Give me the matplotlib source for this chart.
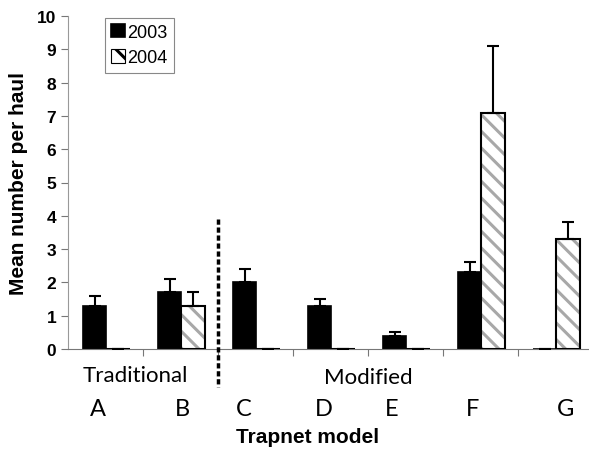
import matplotlib
matplotlib.use("Agg")
import matplotlib.pyplot as plt
import numpy as np

# datos
modelos = ["A", "B", "C", "D", "E", "F", "G"]
media_2003 = [1.3, 1.7, 2.0, 1.3, 0.4, 2.3, 0.0]
error_2003 = [0.3, 0.4, 0.4, 0.2, 0.1, 0.3, 0.0]
media_2004 = [0.0, 1.3, 0.0, 0.0, 0.0, 7.1, 3.3]
error_2004 = [0.0, 0.4, 0.0, 0.0, 0.0, 2.0, 0.5]
grupos = ["Traditional", "Modified"]
yticks = list(range(0, 11))

plt.rcParams['font.family'] = ['Liberation Sans', 'DejaVu Sans']
plt.rcParams['hatch.linewidth'] = 2.2

fig = plt.figure(figsize=(5.89, 4.52), dpi=100)
ax = fig.add_axes([68 / 589, 102 / 452, 521 / 589, 333 / 452])

x = np.arange(len(modelos))
ancho = 0.31
x03 = x + 0.2 + ancho / 2
x04 = x + 0.2 + ancho * 1.5

# barras 2003
ax.bar(x03, media_2003, ancho, color='black', edgecolor='black', lw=1.2, label='2003', zorder=2)
# barras 2004 (rayado gris + borde negro)
ax.bar(x04, media_2004, ancho, color='white', edgecolor='#a8a8a8', hatch='\\\\', lw=0, zorder=2)
ax.bar(x04, media_2004, ancho, fill=False, edgecolor='black', lw=1.5, zorder=3)
# entrada de leyenda
ax.bar([0], [0], 0, color='white', edgecolor='black', hatch='\\', lw=0.8, label='2004')

# barras de error (solo superior)
ax.errorbar(x03, media_2003, yerr=[np.zeros(7), error_2003], fmt='none', ecolor='black',
            elinewidth=1.5, capsize=4, capthick=1.5, zorder=4)
ax.errorbar(x04, media_2004, yerr=[np.zeros(7), error_2004], fmt='none', ecolor='black',
            elinewidth=1.5, capsize=4, capthick=1.5, zorder=4)

ax.set_xlim(0, 521 / 75)
ax.set_ylim(0, 10)
ax.set_yticks(yticks)
ax.set_yticklabels([str(v) for v in yticks], fontsize=12.5, fontweight='bold')
ax.set_xticks(x[1:])
ax.set_xticklabels([])
ax.tick_params(axis='x', length=5, color='#777777')
ax.tick_params(axis='y', length=5, color='#777777')
for s in ['top', 'right']:
    ax.spines[s].set_visible(False)
ax.spines['left'].set_color('#999999')
ax.spines['bottom'].set_color('#777777')

# linea divisoria
ax.plot([2, 2], [3.9, -1.15], ls=(0, (1.5, 0.8)), color='black', lw=2.5, clip_on=False, zorder=5)

# etiquetas de grupo y modelo
ax.text(0.9, -0.78, grupos[0], ha='center', va='center', fontsize=16, family='Lato')
ax.text(4.0, -0.85, grupos[1], ha='center', va='center', fontsize=16, family='Lato')
pos_letras = [0.4, 1.52, 2.35, 3.41, 4.32, 5.39, 6.63]
for p, m in zip(pos_letras, modelos):
    ax.text(p, -1.8, m, ha='center', va='center', fontsize=17, family='Lato')

ax.set_ylabel('Mean number per haul', fontsize=15, fontweight='bold', labelpad=6)
ax.text(3.2, -2.64, 'Trapnet model', ha='center', va='center', fontsize=15, fontweight='bold')

leg = ax.legend(loc='upper left', bbox_to_anchor=(0.067, 1.0), fontsize=13, handlelength=0.75,
                handleheight=0.75, handletextpad=0.15, borderpad=0.35, labelspacing=0.45,
                borderaxespad=0.1, fancybox=False, edgecolor='#888888', framealpha=1)
leg.get_frame().set_linewidth(0.8)

fig.savefig('out.png', dpi=100)
